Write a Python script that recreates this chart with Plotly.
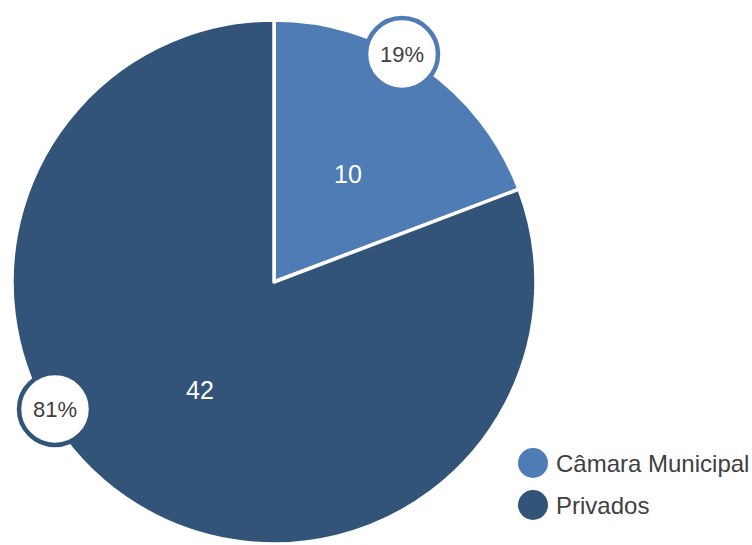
import math
import plotly.graph_objects as go

# ---- data ----
labels = ["Câmara Municipal", "Privados"]
values = [10, 42]
colors = ["#4F7CB4", "#335479"]

W, H = 752, 545
FONT = "Liberation Sans, Arial, sans-serif"

# pie geometry (pixels)
CX, CY, R = 274, 282, 262


def px(x):
    return x / W


def py(y):
    return 1 - y / H


fig = go.Figure(
    go.Pie(
        labels=labels,
        values=values,
        marker=dict(colors=colors, line=dict(color="white", width=3.5)),
        sort=False,
        direction="clockwise",
        rotation=0,
        textinfo="none",
        hoverinfo="label+value+percent",
        showlegend=False,
        domain=dict(x=[px(CX - R), px(CX + R)], y=[max(0, py(CY + R)), py(CY - R)]),
    )
)

total = sum(values)
annotations = []
shapes = []

# value labels inside slices, at half radius on the mid-angle
cum = 0
for v in values:
    mid = (cum + v / 2) / total * 2 * math.pi
    cum += v
    x = CX + 0.5 * R * math.sin(mid)
    y = CY - 0.5 * R * math.cos(mid)
    annotations.append(dict(
        x=px(x), y=py(y), xref="paper", yref="paper", text=str(v),
        showarrow=False, font=dict(family=FONT, size=25, color="white"),
        xanchor="center", yanchor="middle",
    ))

# percentage badges
badge_pos = [(402, 54), (55, 409)]
BR = 36
for v, c, (bx, by) in zip(values, colors, badge_pos):
    pct = round(v / total * 100)
    shapes.append(dict(
        type="circle", xref="paper", yref="paper",
        x0=px(bx - BR), x1=px(bx + BR), y0=py(by + BR), y1=py(by - BR),
        fillcolor="white", line=dict(color=c, width=4.5),
    ))
    annotations.append(dict(
        x=px(bx), y=py(by), xref="paper", yref="paper", text=f"{pct}%",
        showarrow=False, font=dict(family=FONT, size=22, color="#404040"),
        xanchor="center", yanchor="middle",
    ))

# custom legend
leg_y = [463, 505]
for lab, c, ly in zip(labels, colors, leg_y):
    shapes.append(dict(
        type="circle", xref="paper", yref="paper",
        x0=px(533 - 15), x1=px(533 + 15), y0=py(ly + 15), y1=py(ly - 15),
        fillcolor=c, line=dict(color=c, width=0),
    ))
    annotations.append(dict(
        x=px(554), y=py(ly), xref="paper", yref="paper", text=lab,
        showarrow=False, font=dict(family=FONT, size=24, color="#404040"),
        xanchor="left", yanchor="middle",
    ))

fig.update_layout(
    width=W, height=H,
    margin=dict(l=0, r=0, t=0, b=0),
    paper_bgcolor="white", plot_bgcolor="white",
    shapes=shapes, annotations=annotations,
    font=dict(family=FONT),
)

fig.write_html(
    "out.html",
    config={"displayModeBar": False},
    post_script="document.body.style.margin='0';document.body.style.overflow='hidden';",
)
